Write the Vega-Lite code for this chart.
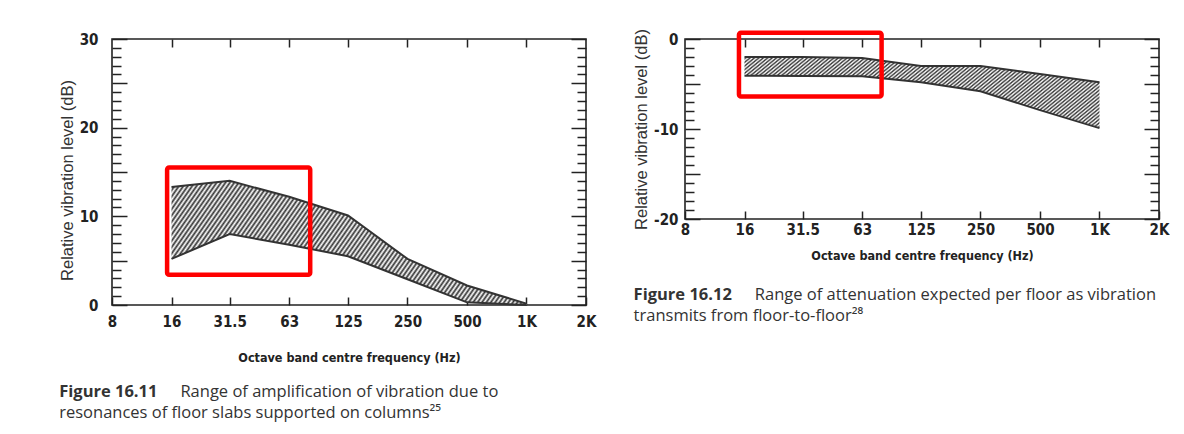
{
  "$schema": "https://vega.github.io/schema/vega-lite/v6.json",
  "background": "white",
  "padding": {"left": 58, "top": 27, "right": 0, "bottom": 0},
  "spacing": 35,
  "config": {
    "view": {"stroke": "#222", "strokeWidth": 1.6},
    "axis": {"domain": false, "grid": false, "labelFont": "DejaVu Sans Condensed, Liberation Sans", "labelFontWeight": "bold", "labelFontSize": 15, "labelColor": "#222", "tickColor": "#222", "tickWidth": 1.5, "titleFont": "DejaVu Sans Condensed, Liberation Sans", "titleFontWeight": "bold", "titleFontSize": 12.5, "titleColor": "#222", "labelFlush": false, "labelOverlap": false},
    "area": {
      "opacity": 1,
      "stroke": null,
      "fill": {"gradient": "linear", "x1": 0, "y1": 0, "x2": 1.174, "y2": 0.286, "stops": [
        {"offset":0,"color":"#fff"},{"offset":0.005,"color":"#333"},{"offset":0.01,"color":"#fff"},{"offset":0.015,"color":"#333"},{"offset":0.02,"color":"#fff"},{"offset":0.025,"color":"#333"},{"offset":0.03,"color":"#fff"},{"offset":0.035,"color":"#333"},{"offset":0.04,"color":"#fff"},{"offset":0.045,"color":"#333"},
        {"offset":0.05,"color":"#fff"},{"offset":0.055,"color":"#333"},{"offset":0.06,"color":"#fff"},{"offset":0.065,"color":"#333"},{"offset":0.07,"color":"#fff"},{"offset":0.075,"color":"#333"},{"offset":0.08,"color":"#fff"},{"offset":0.085,"color":"#333"},{"offset":0.09,"color":"#fff"},{"offset":0.095,"color":"#333"},
        {"offset":0.1,"color":"#fff"},{"offset":0.105,"color":"#333"},{"offset":0.11,"color":"#fff"},{"offset":0.115,"color":"#333"},{"offset":0.12,"color":"#fff"},{"offset":0.125,"color":"#333"},{"offset":0.13,"color":"#fff"},{"offset":0.135,"color":"#333"},{"offset":0.14,"color":"#fff"},{"offset":0.145,"color":"#333"},
        {"offset":0.15,"color":"#fff"},{"offset":0.155,"color":"#333"},{"offset":0.16,"color":"#fff"},{"offset":0.165,"color":"#333"},{"offset":0.17,"color":"#fff"},{"offset":0.175,"color":"#333"},{"offset":0.18,"color":"#fff"},{"offset":0.185,"color":"#333"},{"offset":0.19,"color":"#fff"},{"offset":0.195,"color":"#333"},
        {"offset":0.2,"color":"#fff"},{"offset":0.205,"color":"#333"},{"offset":0.21,"color":"#fff"},{"offset":0.215,"color":"#333"},{"offset":0.22,"color":"#fff"},{"offset":0.225,"color":"#333"},{"offset":0.23,"color":"#fff"},{"offset":0.235,"color":"#333"},{"offset":0.24,"color":"#fff"},{"offset":0.245,"color":"#333"},
        {"offset":0.25,"color":"#fff"},{"offset":0.255,"color":"#333"},{"offset":0.26,"color":"#fff"},{"offset":0.265,"color":"#333"},{"offset":0.27,"color":"#fff"},{"offset":0.275,"color":"#333"},{"offset":0.28,"color":"#fff"},{"offset":0.285,"color":"#333"},{"offset":0.29,"color":"#fff"},{"offset":0.295,"color":"#333"},
        {"offset":0.3,"color":"#fff"},{"offset":0.305,"color":"#333"},{"offset":0.31,"color":"#fff"},{"offset":0.315,"color":"#333"},{"offset":0.32,"color":"#fff"},{"offset":0.325,"color":"#333"},{"offset":0.33,"color":"#fff"},{"offset":0.335,"color":"#333"},{"offset":0.34,"color":"#fff"},{"offset":0.345,"color":"#333"},
        {"offset":0.35,"color":"#fff"},{"offset":0.355,"color":"#333"},{"offset":0.36,"color":"#fff"},{"offset":0.365,"color":"#333"},{"offset":0.37,"color":"#fff"},{"offset":0.375,"color":"#333"},{"offset":0.38,"color":"#fff"},{"offset":0.385,"color":"#333"},{"offset":0.39,"color":"#fff"},{"offset":0.395,"color":"#333"},
        {"offset":0.4,"color":"#fff"},{"offset":0.405,"color":"#333"},{"offset":0.41,"color":"#fff"},{"offset":0.415,"color":"#333"},{"offset":0.42,"color":"#fff"},{"offset":0.425,"color":"#333"},{"offset":0.43,"color":"#fff"},{"offset":0.435,"color":"#333"},{"offset":0.44,"color":"#fff"},{"offset":0.445,"color":"#333"},
        {"offset":0.45,"color":"#fff"},{"offset":0.455,"color":"#333"},{"offset":0.46,"color":"#fff"},{"offset":0.465,"color":"#333"},{"offset":0.47,"color":"#fff"},{"offset":0.475,"color":"#333"},{"offset":0.48,"color":"#fff"},{"offset":0.485,"color":"#333"},{"offset":0.49,"color":"#fff"},{"offset":0.495,"color":"#333"},
        {"offset":0.5,"color":"#fff"},{"offset":0.505,"color":"#333"},{"offset":0.51,"color":"#fff"},{"offset":0.515,"color":"#333"},{"offset":0.52,"color":"#fff"},{"offset":0.525,"color":"#333"},{"offset":0.53,"color":"#fff"},{"offset":0.535,"color":"#333"},{"offset":0.54,"color":"#fff"},{"offset":0.545,"color":"#333"},
        {"offset":0.55,"color":"#fff"},{"offset":0.555,"color":"#333"},{"offset":0.56,"color":"#fff"},{"offset":0.565,"color":"#333"},{"offset":0.57,"color":"#fff"},{"offset":0.575,"color":"#333"},{"offset":0.58,"color":"#fff"},{"offset":0.585,"color":"#333"},{"offset":0.59,"color":"#fff"},{"offset":0.595,"color":"#333"},
        {"offset":0.6,"color":"#fff"},{"offset":0.605,"color":"#333"},{"offset":0.61,"color":"#fff"},{"offset":0.615,"color":"#333"},{"offset":0.62,"color":"#fff"},{"offset":0.625,"color":"#333"},{"offset":0.63,"color":"#fff"},{"offset":0.635,"color":"#333"},{"offset":0.64,"color":"#fff"},{"offset":0.645,"color":"#333"},
        {"offset":0.65,"color":"#fff"},{"offset":0.655,"color":"#333"},{"offset":0.66,"color":"#fff"},{"offset":0.665,"color":"#333"},{"offset":0.67,"color":"#fff"},{"offset":0.675,"color":"#333"},{"offset":0.68,"color":"#fff"},{"offset":0.685,"color":"#333"},{"offset":0.69,"color":"#fff"},{"offset":0.695,"color":"#333"},
        {"offset":0.7,"color":"#fff"},{"offset":0.705,"color":"#333"},{"offset":0.71,"color":"#fff"},{"offset":0.715,"color":"#333"},{"offset":0.72,"color":"#fff"},{"offset":0.725,"color":"#333"},{"offset":0.73,"color":"#fff"},{"offset":0.735,"color":"#333"},{"offset":0.74,"color":"#fff"},{"offset":0.745,"color":"#333"},
        {"offset":0.75,"color":"#fff"},{"offset":0.755,"color":"#333"},{"offset":0.76,"color":"#fff"},{"offset":0.765,"color":"#333"},{"offset":0.77,"color":"#fff"},{"offset":0.775,"color":"#333"},{"offset":0.78,"color":"#fff"},{"offset":0.785,"color":"#333"},{"offset":0.79,"color":"#fff"},{"offset":0.795,"color":"#333"},
        {"offset":0.8,"color":"#fff"},{"offset":0.805,"color":"#333"},{"offset":0.81,"color":"#fff"},{"offset":0.815,"color":"#333"},{"offset":0.82,"color":"#fff"},{"offset":0.825,"color":"#333"},{"offset":0.83,"color":"#fff"},{"offset":0.835,"color":"#333"},{"offset":0.84,"color":"#fff"},{"offset":0.845,"color":"#333"},
        {"offset":0.85,"color":"#fff"},{"offset":0.855,"color":"#333"},{"offset":0.86,"color":"#fff"},{"offset":0.865,"color":"#333"},{"offset":0.87,"color":"#fff"},{"offset":0.875,"color":"#333"},{"offset":0.88,"color":"#fff"},{"offset":0.885,"color":"#333"},{"offset":0.89,"color":"#fff"},{"offset":0.895,"color":"#333"},
        {"offset":0.9,"color":"#fff"},{"offset":0.905,"color":"#333"},{"offset":0.91,"color":"#fff"},{"offset":0.915,"color":"#333"},{"offset":0.92,"color":"#fff"},{"offset":0.925,"color":"#333"},{"offset":0.93,"color":"#fff"},{"offset":0.935,"color":"#333"},{"offset":0.94,"color":"#fff"},{"offset":0.945,"color":"#333"},
        {"offset":0.95,"color":"#fff"},{"offset":0.955,"color":"#333"},{"offset":0.96,"color":"#fff"},{"offset":0.965,"color":"#333"},{"offset":0.97,"color":"#fff"},{"offset":0.975,"color":"#333"},{"offset":0.98,"color":"#fff"},{"offset":0.985,"color":"#333"},{"offset":0.99,"color":"#fff"},{"offset":0.995,"color":"#333"},
        {"offset":1,"color":"#fff"}
      ]}
    },
    "title": {"font": "Open Sans", "fontSize": 16.5, "color": "#333", "subtitleFont": "Open Sans", "subtitleFontSize": 16.5, "subtitleColor": "#333"}
  },
  "hconcat": [
    {
      "title": {"text": "Range of amplification of vibration due to", "orient": "bottom", "anchor": "start", "frame": "bounds", "dx": 122, "dy": -38, "offset": 0, "fontWeight": "normal"},
      "vconcat": [
        {
          "width": 474,
          "height": 266,
          "title": {"text": "Figure 16.11", "subtitle": "resonances of floor slabs supported on columns²⁵", "orient": "bottom", "anchor": "start", "frame": "bounds", "offset": 20, "fontWeight": "bold", "subtitlePadding": 5},
          "data": {"values": [
            {"f": 16, "lo": 5.2, "hi": 13.3},
            {"f": 31.5, "lo": 8.0, "hi": 14.0},
            {"f": 63, "lo": 6.8, "hi": 12.2},
            {"f": 125, "lo": 5.5, "hi": 10.1},
            {"f": 250, "lo": 2.9, "hi": 5.2},
            {"f": 500, "lo": 0.3, "hi": 2.2},
            {"f": 1000, "lo": 0.0, "hi": 0.15}
          ]},
          "layer": [
            {
              "mark": {"type": "area", "interpolate": "linear"},
              "encoding": {
                "x": {"field": "f", "type": "quantitative", "scale": {"type": "log", "base": 2, "domain": [8, 2000], "nice": false}, "axis": {"orient": "bottom", "values": [8, 16, 31.5, 63, 125, 250, 500, 1000, 2000], "labelExpr": "datum.value >= 1000 ? (datum.value / 1000) + 'K' : '' + datum.value", "tickSize": -8, "labelPadding": 17, "title": "Octave band centre frequency (Hz)", "titlePadding": 22}},
                "y": {"field": "hi", "type": "quantitative", "scale": {"domain": [0, 30], "nice": false, "zero": false}, "axis": {"orient": "left", "values": [0,1,2,3,4,5,6,7,8,9,10,11,12,13,14,15,16,17,18,19,20,21,22,23,24,25,26,27,28,29,30], "tickSize": {"condition": {"test": "datum.value % 5 === 0", "value": -15}, "value": -9}, "labelExpr": "datum.value % 10 === 0 ? '' + datum.value : ''", "labelPadding": 29, "title": "Relative vibration level (dB)", "titlePadding": 4, "titleY": 141, "titleFontWeight": "normal", "titleFont": "Liberation Sans", "titleFontSize": 16.5, "titleColor": "#333"}},
                "y2": {"field": "lo"}
              }
            },
            {
              "mark": {"type": "line", "color": "#333", "strokeWidth": 2},
              "encoding": {
                "x": {"field": "f", "type": "quantitative", "axis": {"orient": "top", "values": [16, 31.5, 63, 125, 250, 500, 1000], "labels": false, "tickSize": -8, "title": null}},
                "y": {"field": "hi", "type": "quantitative", "axis": {"orient": "right", "values": [0,1,2,3,4,5,6,7,8,9,10,11,12,13,14,15,16,17,18,19,20,21,22,23,24,25,26,27,28,29,30], "tickSize": {"condition": {"test": "datum.value % 5 === 0", "value": -15}, "value": -9}, "labels": false, "title": null}}
              }
            },
            {
              "mark": {"type": "line", "color": "#333", "strokeWidth": 2},
              "encoding": {
                "x": {"field": "f", "type": "quantitative", "axis": null},
                "y": {"field": "lo", "type": "quantitative", "axis": null}
              }
            },
            {
              "data": {"values": [{"fa": 15.2, "fb": 80.5, "ya": 3.4, "yb": 15.5}]},
              "mark": {"type": "rect", "filled": false, "color": "#f00", "stroke": "#f00", "strokeWidth": 4.5, "cornerRadius": 2, "clip": false},
              "encoding": {
                "x": {"field": "fa", "type": "quantitative", "axis": null},
                "x2": {"field": "fb"},
                "y": {"field": "ya", "type": "quantitative", "axis": null},
                "y2": {"field": "yb"}
              }
            }
          ],
          "resolve": {"axis": {"x": "independent", "y": "independent"}}
        }
      ]
    },
    {
      "title": {"text": "Range of attenuation expected per floor as vibration", "orient": "bottom", "anchor": "start", "frame": "bounds", "dx": 122, "dy": -38, "offset": 0, "fontWeight": "normal"},
      "vconcat": [
        {
          "width": 474,
          "height": 180,
          "title": {"text": "Figure 16.12", "subtitle": "transmits from floor-to-floor²⁸", "orient": "bottom", "anchor": "start", "frame": "bounds", "offset": 25, "fontWeight": "bold", "subtitlePadding": 5},
          "data": {"values": [
            {"f": 16, "lo": -4.07, "hi": -2.0},
            {"f": 31.5, "lo": -4.1, "hi": -2.0},
            {"f": 63, "lo": -4.15, "hi": -2.1},
            {"f": 125, "lo": -4.8, "hi": -3.0},
            {"f": 250, "lo": -5.8, "hi": -3.0},
            {"f": 500, "lo": -7.9, "hi": -3.9},
            {"f": 1000, "lo": -9.9, "hi": -4.8}
          ]},
          "layer": [
            {
              "mark": {"type": "area", "interpolate": "linear"},
              "encoding": {
                "x": {"field": "f", "type": "quantitative", "scale": {"type": "log", "base": 2, "domain": [8, 2000], "nice": false}, "axis": {"orient": "bottom", "values": [8, 16, 31.5, 63, 125, 250, 500, 1000, 2000], "labelExpr": "datum.value >= 1000 ? (datum.value / 1000) + 'K' : '' + datum.value", "tickSize": -8, "labelPadding": 11, "title": "Octave band centre frequency (Hz)", "titlePadding": 12}},
                "y": {"field": "hi", "type": "quantitative", "scale": {"domain": [-20, 0], "nice": false, "zero": false}, "axis": {"orient": "left", "values": [-20,-19,-18,-17,-16,-15,-14,-13,-12,-11,-10,-9,-8,-7,-6,-5,-4,-3,-2,-1,0], "tickSize": {"condition": {"test": "datum.value % 5 === 0", "value": -15}, "value": -9}, "labelExpr": "datum.value % 10 === 0 ? '' + datum.value : ''", "labelPadding": 22, "title": "Relative vibration level (dB)", "titlePadding": 4, "titleFontWeight": "normal", "titleFont": "Liberation Sans", "titleFontSize": 16.5, "titleColor": "#333"}},
                "y2": {"field": "lo"}
              }
            },
            {
              "mark": {"type": "line", "color": "#333", "strokeWidth": 2},
              "encoding": {
                "x": {"field": "f", "type": "quantitative", "axis": {"orient": "top", "values": [16, 31.5, 63, 125, 250, 500, 1000], "labels": false, "tickSize": -8, "title": null}},
                "y": {"field": "hi", "type": "quantitative", "axis": {"orient": "right", "values": [-20,-19,-18,-17,-16,-15,-14,-13,-12,-11,-10,-9,-8,-7,-6,-5,-4,-3,-2,-1,0], "tickSize": {"condition": {"test": "datum.value % 5 === 0", "value": -15}, "value": -9}, "labels": false, "title": null}}
              }
            },
            {
              "mark": {"type": "line", "color": "#333", "strokeWidth": 2},
              "encoding": {
                "x": {"field": "f", "type": "quantitative", "axis": null},
                "y": {"field": "lo", "type": "quantitative", "axis": null}
              }
            },
            {
              "data": {"values": [{"fa": 15.0, "fb": 79, "ya": -6.4, "yb": 0.7}]},
              "mark": {"type": "rect", "filled": false, "color": "#f00", "stroke": "#f00", "strokeWidth": 4.5, "cornerRadius": 2, "clip": false},
              "encoding": {
                "x": {"field": "fa", "type": "quantitative", "axis": null},
                "x2": {"field": "fb"},
                "y": {"field": "ya", "type": "quantitative", "axis": null},
                "y2": {"field": "yb"}
              }
            }
          ],
          "resolve": {"axis": {"x": "independent", "y": "independent"}}
        }
      ]
    }
  ]
}
